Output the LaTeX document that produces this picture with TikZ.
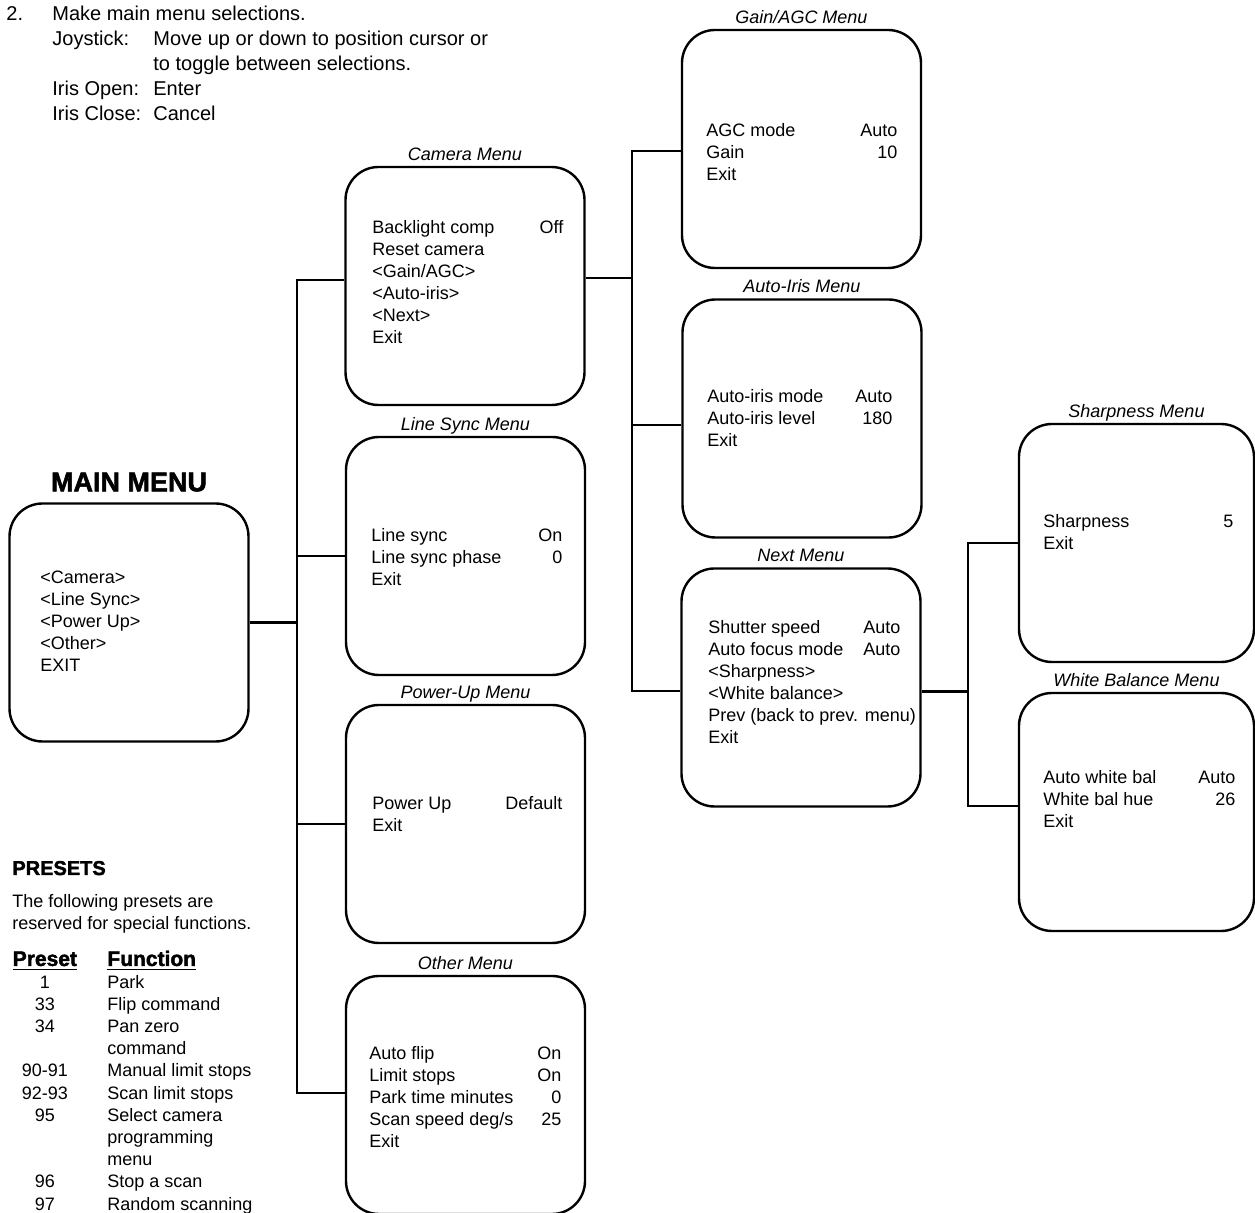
\documentclass[tikz,border=0pt]{standalone}
\usepackage{fontspec}
\usepackage{array}
\setmainfont{Liberation Sans}
\newfontfamily\heavyfont{Liberation Sans}[BoldFeatures={FakeBold=2}]
\newcommand{\menutab}[2]{\begin{tabular*}{#1}{@{}l@{\extracolsep{\fill}}r@{}}#2\end{tabular*}}

\begin{document}
\begin{tikzpicture}[x=0.5pt,y=-0.5pt,
  menubox/.style={draw,line width=1.2pt,rounded corners=16.5pt,minimum width=119.5pt,minimum height=119pt,inner sep=0pt},
  narrowbox/.style={menubox,minimum width=117.5pt},
  menutitle/.style={font=\fontsize{9}{11}\selectfont\itshape,inner sep=0pt,anchor=base},
  menutext/.style={font=\fontsize{9}{11}\selectfont,inner sep=0pt,anchor=west},
  plaintext/.style={font=\fontsize{9}{11.1}\selectfont,inner sep=0pt,anchor=north west},
  heavy/.style={font=\fontsize{#1}{#1}\selectfont\heavyfont\bfseries,inner sep=0pt},
  wire/.style={line width=1.2pt}]
\useasboundingbox (0,0) rectangle (1255,1213);

% instructions
\node[anchor=north west,inner sep=0pt,font=\fontsize{10}{12.6}\selectfont] (steps) at (6,2)
  {\begin{tabular}{@{}p{23pt}@{}p{50.5pt}@{}l@{}}
   2. & \multicolumn{2}{@{}l@{}}{Make main menu selections.}\\
      & Joystick: & Move up or down to position cursor or\\
      & & to toggle between selections.\\
      & Iris Open: & Enter\\
      & Iris Close: & Cancel
   \end{tabular}};

% boxes
\node[menubox] (main) at (129,622.5) {};
\node[menubox] (cam) at (465,286) {};
\node[menubox] (lsy) at (465.5,556) {};
\node[menubox] (pwr) at (465.5,824) {};
\node[menubox] (oth) at (465.5,1095) {};
\node[menubox] (gain) at (801.5,149) {};
\node[menubox] (iris) at (802,418.5) {};
\node[menubox] (next) at (801,687.5) {};
\node[narrowbox] (shp) at (1136.5,543) {};
\node[narrowbox] (wb) at (1136.5,812) {};

% titles
\node[heavy=13.5,anchor=base] (main-t) at ([yshift=5.5pt]main.north) {MAIN MENU};
\node[menutitle] (cam-t) at ([yshift=2.75pt]cam.north) {Camera Menu};
\node[menutitle] (lsy-t) at ([yshift=2.75pt]lsy.north) {Line Sync Menu};
\node[menutitle] (pwr-t) at ([yshift=2.75pt]pwr.north) {Power-Up Menu};
\node[menutitle] (oth-t) at ([yshift=2.75pt]oth.north) {Other Menu};
\node[menutitle] (gain-t) at ([yshift=2.75pt]gain.north) {Gain/AGC Menu};
\node[menutitle] (iris-t) at ([yshift=2.75pt]iris.north) {Auto-Iris Menu};
\node[menutitle] (next-t) at ([yshift=2.75pt]next.north) {Next Menu};
\node[menutitle] (shp-t) at ([yshift=2.75pt]shp.north) {Sharpness Menu};
\node[menutitle] (wb-t) at ([yshift=2.75pt]wb.north) {White Balance Menu};

% menu entries
\node[menutext] (main-x) at (40,623)
  {\begin{tabular}{@{}l@{}}<Camera>\\<Line Sync>\\<Power Up>\\<Other>\\EXIT\end{tabular}};
\node[menutext] (cam-x) at (372,284)
  {\menutab{95.5pt}{Backlight comp & Off\\Reset camera\\<Gain/AGC>\\<Auto-iris>\\<Next>\\Exit}};
\node[menutext] (lsy-x) at (371,559)
  {\menutab{95.5pt}{Line sync & On\\Line sync phase & 0\\Exit}};
\node[menutext] (pwr-x) at (372,816)
  {\menutab{95pt}{Power Up & Default\\Exit}};
\node[menutext] (oth-x) at (369,1099)
  {\menutab{96pt}{Auto flip & On\\Limit stops & On\\Park time minutes & 0\\Scan speed deg/s & 25\\Exit}};
\node[menutext] (gain-x) at (706,154)
  {\menutab{95.5pt}{AGC mode & Auto\\Gain & 10\\Exit}};
\node[menutext] (iris-x) at (707,420)
  {\menutab{92.5pt}{Auto-iris mode & Auto\\Auto-iris level & 180\\Exit}};
\node[menutext] (next-x) at (708,684)
  {\menutab{96pt}{Shutter speed & Auto\\Auto focus mode & Auto\\<Sharpness>\\<White balance>\\
   \multicolumn{2}{@{}l@{}}{\makebox[0pt][l]{Prev (back to prev. menu)}}\\Exit}};
\node[menutext] (shp-x) at (1043,534)
  {\menutab{95pt}{Sharpness & 5\\Exit}};
\node[menutext] (wb-x) at (1043,801)
  {\menutab{96pt}{Auto white bal & Auto\\White bal hue & 26\\Exit}};

% connectors
\coordinate (bus1) at (297,0);
\coordinate (bus2) at (632,0);
\coordinate (bus3) at (968,0);
\draw[wire] ([yshift=3pt]cam.west) -- ([yshift=3pt]cam.west -| bus1) |- ([yshift=1pt]oth.west);
\draw[wire] (main.east) -- (main.east -| bus1);
\draw[wire] (lsy.west) -- (lsy.west -| bus1);
\draw[wire] (pwr.west) -- (pwr.west -| bus1);
%
\draw[wire] ([yshift=-1pt]gain.west) -- ([yshift=-1pt]gain.west -| bus2) |- ([yshift=-1.75pt]next.west);
\draw[wire] ([yshift=4pt]cam.east) -- ([yshift=4pt]cam.east -| bus2);
\draw[wire] ([yshift=-3.25pt]iris.west) -- ([yshift=-3.25pt]iris.west -| bus2);
%
\draw[wire] (shp.west) -- (shp.west -| bus3) |- ([yshift=3pt]wb.west);
\draw[wire] ([yshift=-2pt]next.east) -- ([yshift=-2pt]next.east -| bus3);

% presets
\node[heavy=10,anchor=base west] (pre-h) at (12,875) {PRESETS};
\node[plaintext,font=\fontsize{9}{11}\selectfont] (pre-d) at (12,892)
  {\begin{tabular}{@{}l@{}}The following presets are\\reserved for special functions.\end{tabular}};
\node[plaintext] (pre-t) at (12,950)
  {\begin{tabular}{@{}>{\centering\arraybackslash}p{32.5pt}@{\hspace{15pt}}l@{}}
   \underline{\fontsize{10.5}{11.1}\selectfont\heavyfont\bfseries Preset} &
   \underline{\fontsize{10.5}{11.1}\selectfont\heavyfont\bfseries Function}\\
   1 & Park\\
   33 & Flip command\\
   34 & Pan zero\\
   & command\\
   90-91 & Manual limit stops\\
   92-93 & Scan limit stops\\
   95 & Select camera\\
   & programming\\
   & menu\\
   96 & Stop a scan\\
   97 & Random scanning
   \end{tabular}};
\end{tikzpicture}
\end{document}
